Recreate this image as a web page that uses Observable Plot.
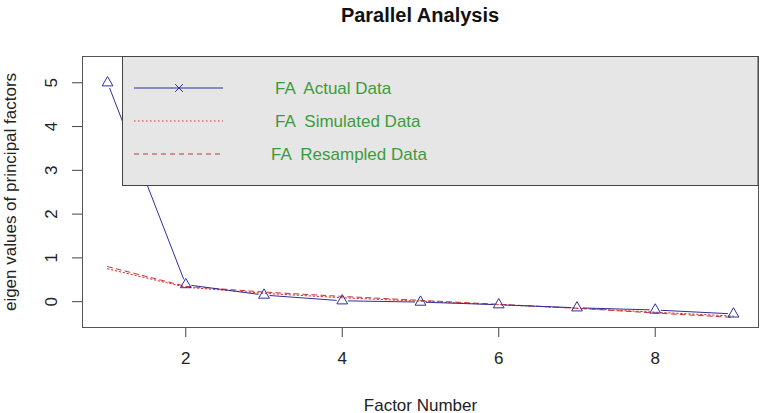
<!DOCTYPE html>
<html>
<head>
<meta charset="utf-8">
<script src="https://cdn.jsdelivr.net/npm/d3@7"></script>
<script src="https://cdn.jsdelivr.net/npm/@observablehq/plot@0.6"></script>
<style>
  body { margin: 0; background: #fff; }
  #chart svg { display: block; }
</style>
</head>
<body>
<div id="chart"></div>
<script>
// Eigenvalues of the principal factors: observed vs. simulated and resampled data
const factors = [1, 2, 3, 4, 5, 6, 7, 8, 9];
const actualValues = [5.00, 0.39, 0.15, 0.02, -0.01, -0.07, -0.14, -0.19, -0.28];
const simulatedValues = [0.75, 0.33, 0.19, 0.09, 0.01, -0.07, -0.15, -0.24, -0.33];
const resampledValues = [0.80, 0.35, 0.22, 0.12, 0.03, -0.06, -0.15, -0.26, -0.36];
const xTicks = [2, 4, 6, 8];
const yTicks = [0, 1, 2, 3, 4, 5];
const legendLabels = ["FA  Actual Data", "FA  Simulated Data", "FA  Resampled Data"];

const BLUE = "#2f2f9c";
const RED = "#cc3333";
const GREEN = "#3d9b3d";
const FONT = "'Liberation Sans', Arial, Helvetica, sans-serif";

const actual = factors.map((f, i) => ({factor: f, value: actualValues[i]}));
const simulated = factors.map((f, i) => ({factor: f, value: simulatedValues[i]}));
const resampled = factors.map((f, i) => ({factor: f, value: resampledValues[i]}));
// "b"-style connections: segments stop short of each point symbol
const segments = d3.pairs(actual).map(([a, b]) => ({x1: a.factor, y1: a.value, x2: b.factor, y2: b.value}));

const chart = Plot.plot({
  width: 764,
  height: 413,
  marginLeft: 82,
  marginRight: 6,
  marginTop: 56,
  marginBottom: 86,
  style: {fontFamily: FONT, fontSize: "17px", color: "#222", background: "#fff"},
  x: {domain: [0.68, 9.32]},
  y: {domain: [-0.59, 5.60]},
  marks: [
    Plot.axisX({
      ticks: xTicks, tickFormat: d3.format("d"), tickSize: 10, tickPadding: 14, stroke: "#444",
      label: "Factor Number", labelAnchor: "center", labelArrow: "none", labelOffset: 83
    }),
    Plot.axisY({
      ticks: yTicks, tickFormat: d3.format("d"), tickSize: 10, tickPadding: 16, tickRotate: -90, stroke: "#444",
      label: "eigen values of principal factors", labelAnchor: "center", labelArrow: "none", labelOffset: 79
    }),
    Plot.line(simulated, {x: "factor", y: "value", stroke: RED, strokeWidth: 1, strokeDasharray: "1.5 2.5"}),
    Plot.line(resampled, {x: "factor", y: "value", stroke: RED, strokeWidth: 1, strokeDasharray: "5 4"}),
    Plot.arrow(segments, {x1: "x1", y1: "y1", x2: "x2", y2: "y2", stroke: BLUE, strokeWidth: 1, headLength: 0, inset: 6}),
    Plot.dot(actual, {x: "factor", y: "value", symbol: "triangle", r: 4, stroke: BLUE, fill: "none", strokeWidth: 1}),
    Plot.frame({stroke: "#555"})
  ]
});

document.getElementById("chart").append(chart);

// Title and legend box drawn over the plot area
const svg = d3.select(chart);
const frameLeft = 82, frameRight = 764 - 6, frameTop = 56;

svg.append("text")
  .attr("x", (frameLeft + frameRight) / 2)
  .attr("y", 22)
  .attr("text-anchor", "middle")
  .attr("font-family", FONT)
  .attr("font-size", 20)
  .attr("font-weight", "bold")
  .attr("fill", "#111")
  .text("Parallel Analysis");

const legend = svg.append("g");
legend.append("rect")
  .attr("x", 122.5).attr("y", frameTop + 0.5)
  .attr("width", frameRight - 122.5).attr("height", 129)
  .attr("fill", "#e6e6e6").attr("stroke", "#444");

const rowY = [88, 121, 154];
const textX = [275, 275, 271];
const dashes = [null, "1.5 2.5", "5 4"];
const colors = [BLUE, RED, RED];
legendLabels.forEach((label, i) => {
  legend.append("line")
    .attr("x1", 134).attr("x2", 223).attr("y1", rowY[i]).attr("y2", rowY[i])
    .attr("stroke", colors[i]).attr("stroke-width", 1)
    .attr("stroke-dasharray", dashes[i]);
  legend.append("text")
    .attr("x", textX[i]).attr("y", rowY[i])
    .attr("dy", "0.35em")
    .attr("text-anchor", "start")
    .attr("font-family", FONT).attr("font-size", 17)
    .attr("fill", GREEN)
    .text(label);
});
// cross marker for the actual-data row
legend.append("path")
  .attr("d", d3.symbol(d3.symbolX, 40)())
  .attr("transform", `translate(179,${rowY[0]})`)
  .attr("fill", "none").attr("stroke", BLUE).attr("stroke-width", 1);
</script>
</body>
</html>
